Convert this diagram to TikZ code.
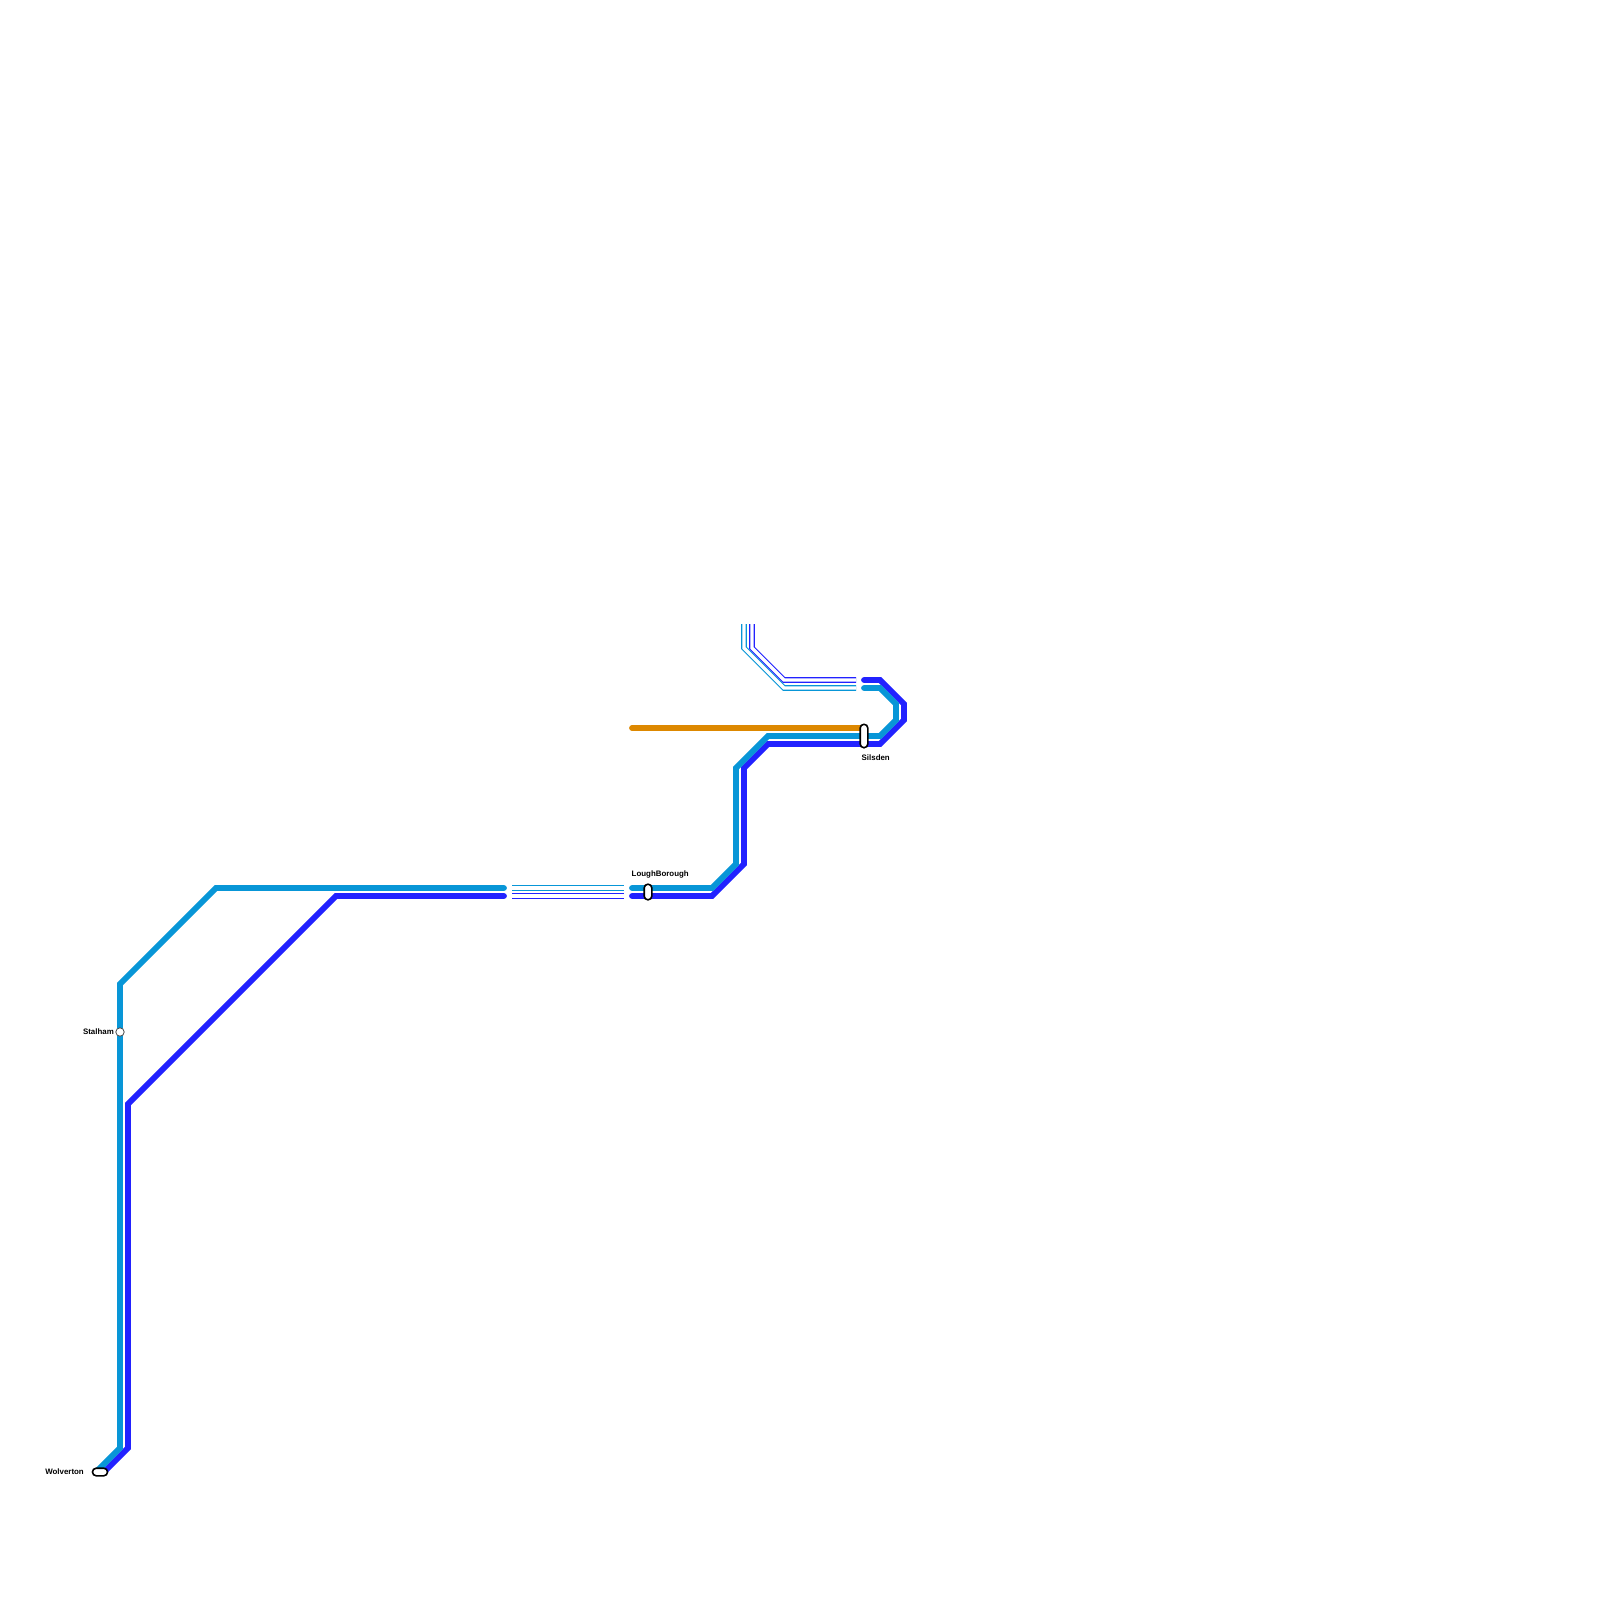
\documentclass[tikz,border=0pt]{standalone}
\usepackage{fontspec}
\setmainfont{Liberation Sans}
\definecolor{lineA}{HTML}{0896D7}
\definecolor{lineB}{HTML}{2222FF}
\definecolor{lineC}{HTML}{DD8800}
\tikzset{
  route/.style={line width=5.8pt,line cap=round,line join=miter},
  tunnel/.style={line width=5.6pt,line cap=butt,line join=miter},
  tunnelcore/.style={white,line width=3.2pt,line cap=butt,line join=miter},
  capsule/.style={draw=black,fill=white,line width=1.6pt,rounded corners=3.7pt,inner sep=0pt,minimum width=#1},
  interchange/.style={circle,draw=black!70,fill=white,line width=0.8pt,inner sep=0pt,minimum size=8.4pt},
  lbl/.style={font=\bfseries\fontsize{7.9}{9}\selectfont,text=black,inner sep=0pt}
}
\begin{document}
\begin{tikzpicture}[x=1pt,y=-1pt]
\useasboundingbox (0,0) rectangle (1600,1600);
\fill[white] (0,0) rectangle (1600,1600);
% named way points
\coordinate (a1) at (96,1472); \coordinate (a2) at (120,1448); \coordinate (a3) at (120,984);
\coordinate (a4) at (216,888); \coordinate (a5) at (504,888);
\coordinate (b1) at (104,1472); \coordinate (b2) at (128,1448); \coordinate (b3) at (128,1104);
\coordinate (b4) at (336,896); \coordinate (b5) at (504,896);
\coordinate (c1) at (512,888); \coordinate (c2) at (624,888);
\coordinate (d1) at (512,896); \coordinate (d2) at (624,896);
\coordinate (e1) at (632,888); \coordinate (e2) at (712,888); \coordinate (e3) at (736,864);
\coordinate (e4) at (736,768); \coordinate (e5) at (768,736); \coordinate (e6) at (880,736);
\coordinate (e7) at (896,720); \coordinate (e8) at (896,704); \coordinate (e9) at (880,688); \coordinate (e10) at (864,688);
\coordinate (f1) at (632,896); \coordinate (f2) at (712,896); \coordinate (f3) at (744,864);
\coordinate (f4) at (744,768); \coordinate (f5) at (768,744); \coordinate (f6) at (880,744);
\coordinate (f7) at (904,720); \coordinate (f8) at (904,704); \coordinate (f9) at (880,680); \coordinate (f10) at (864,680);
\coordinate (g1) at (744,624); \coordinate (g2) at (744,648); \coordinate (g3) at (784,688); \coordinate (g4) at (856,688);
\coordinate (h1) at (752,624); \coordinate (h2) at (752,648); \coordinate (h3) at (784,680); \coordinate (h4) at (856,680);
\coordinate (o1) at (632,728); \coordinate (o2) at (864,728);
% main routes
\draw[route,lineB] (b1)--(b2)--(b3)--(b4)--(b5);
\draw[route,lineA] (a1)--(a2)--(a3)--(a4)--(a5);
\draw[route,lineC] (o1)--(o2);
\draw[route,lineB] (f1)--(f2)--(f3)--(f4)--(f5)--(f6)--(f7)--(f8)--(f9)--(f10);
\draw[route,lineA] (e1)--(e2)--(e3)--(e4)--(e5)--(e6)--(e7)--(e8)--(e9)--(e10);
% tunnel sections
\draw[tunnel,lineA] (c1)--(c2);
\draw[tunnelcore] (c1)--(c2);
\draw[tunnel,lineB] (d1)--(d2);
\draw[tunnelcore] (d1)--(d2);
\draw[tunnel,lineA] (g1)--(g2)--(g3)--(g4);
\draw[tunnelcore] (g1)--(g2)--(g3)--(g4);
\draw[tunnel,lineB] (h1)--(h2)--(h3)--(h4);
\draw[tunnelcore] (h1)--(h2)--(h3)--(h4);
% stations
\node[capsule=7.6pt,minimum height=23.4pt] (silsden) at (864,736) {};
\node[capsule=7.6pt,minimum height=15.6pt] (lough) at (648,892) {};
\node[capsule=15pt,minimum height=7.6pt] (wolverton) at (100,1472) {};
\node[interchange] (stalham) at (120,1032) {};
% labels
\node[lbl,anchor=west] (tsilsden) at (861.5,758) {Silsden};
\node[lbl,anchor=west] (tlough) at (631.5,874) {LoughBorough};
\node[lbl,anchor=east] (twolverton) at (84,1472) {Wolverton};
\node[lbl,anchor=east] (tstalham) at (114,1032) {Stalham};
\end{tikzpicture}
\end{document}
